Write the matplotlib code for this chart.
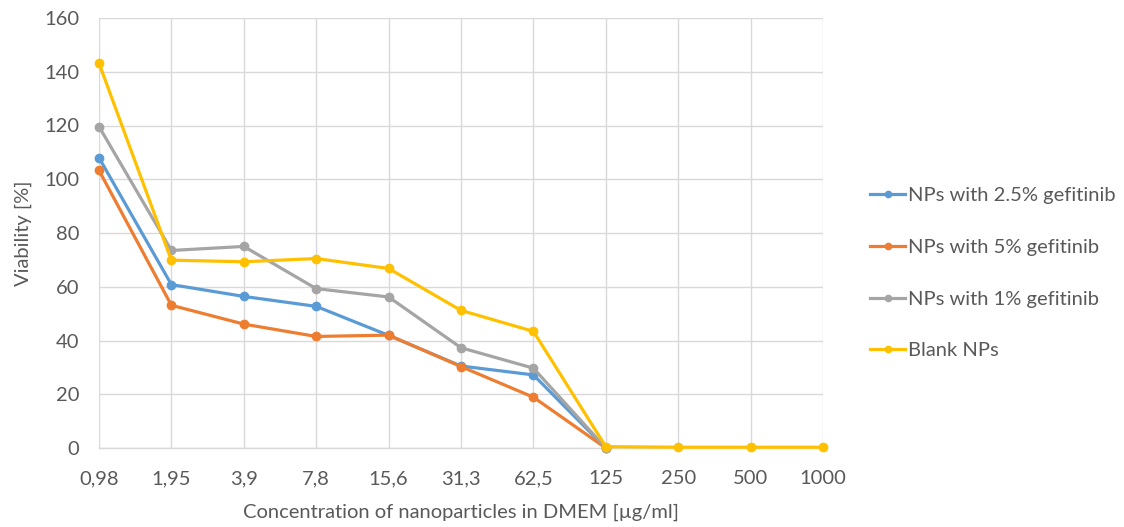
import numpy as np
import matplotlib
matplotlib.use("Agg")
import matplotlib.pyplot as plt
from matplotlib.lines import Line2D

plt.rcParams['font.family'] = ['Lato', 'DejaVu Sans']

categories = ["0,98", "1,95", "3,9", "7,8", "15,6", "31,3", "62,5", "125", "250", "500", "1000"]

gef_2_5 = [108.0, 60.8, 56.4, 52.7, 41.9, 30.5, 27.2, 0.0, np.nan, np.nan, np.nan]
gef_5 = [103.3, 53.1, 46.1, 41.5, 42.0, 30.3, 18.9, 0.0, np.nan, np.nan, np.nan]
gef_1 = [119.6, 73.5, 75.0, 59.3, 56.2, 37.3, 29.7, 0.0, np.nan, np.nan, np.nan]
blank = [143.2, 69.9, 69.3, 70.5, 66.8, 51.2, 43.4, 0.5, 0.3, 0.3, 0.3]

series = [
    ("NPs with 2.5% gefitinib", gef_2_5, "#5b9bd5"),
    ("NPs with 5% gefitinib", gef_5, "#ed7d31"),
    ("NPs with 1% gefitinib", gef_1, "#a5a5a5"),
    ("Blank NPs", blank, "#ffc000"),
]

text_color = "#595959"
grid_color = "#d9d9d9"
fs = 14.5

fig = plt.figure(figsize=(11.24, 5.27), dpi=100)
ax = fig.add_axes([99 / 1124, 1 - 448 / 527, (823 - 99) / 1124, (448 - 18) / 527])

x = np.arange(len(categories))
for label, vals, color in series:
    ax.plot(x, vals, color=color, lw=2.3, marker="o", markersize=6,
            label=label, solid_joinstyle="round", zorder=3, clip_on=False)

ax.set_xlim(0, len(categories) - 1)
ax.set_ylim(0, 160)
ax.set_yticks(np.arange(0, 161, 20))
ax.set_xticks(x)
ax.set_xticklabels(categories)

ax.grid(True, color=grid_color, lw=1.0, zorder=0)
ax.set_axisbelow(True)
for side in ["top", "right", "left"]:
    ax.spines[side].set_visible(False)
ax.spines["bottom"].set_color(grid_color)
ax.spines["bottom"].set_linewidth(1.0)
ax.tick_params(axis="both", length=0, labelsize=fs, colors=text_color)
ax.tick_params(axis="x", pad=16)
ax.tick_params(axis="y", pad=14)

ax.set_xlabel("Concentration of nanoparticles in DMEM [µg/ml]", fontsize=fs,
              color=text_color, labelpad=12)
ax.set_ylabel("Viability [%]", fontsize=fs, color=text_color, labelpad=9)

handles = [Line2D([0], [0], color=c, lw=2.3, marker="o", markersize=4.5) for _, _, c in series]
leg = fig.legend(handles, [s[0] for s in series], loc="upper left",
                 bbox_to_anchor=(852 / 1124, 1 - 169 / 527), frameon=False,
                 fontsize=fs, labelspacing=1.72, handlelength=1.75,
                 handletextpad=0.15, labelcolor=text_color)

fig.savefig("out.png", dpi=100)
